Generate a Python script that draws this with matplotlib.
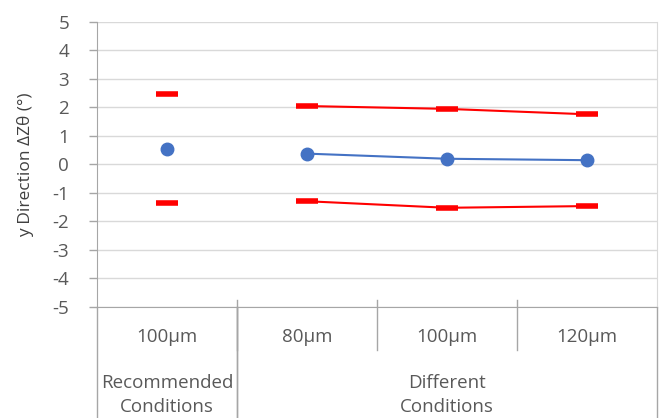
import matplotlib
matplotlib.use('Agg')
import matplotlib.pyplot as plt

plt.rcParams['font.family'] = ['Open Sans', 'DejaVu Sans']
plt.rcParams['axes.unicode_minus'] = False

# category labels (two levels)
sizes = ['100µm', '80µm', '100µm', '120µm']
groups = ['Recommended\nConditions', 'Different\nConditions']
group_span = [(0, 1), (1, 4)]

# values
mean = [0.55, 0.38, 0.20, 0.15]
upper = [2.48, 2.05, 1.95, 1.76]
lower = [-1.36, -1.29, -1.52, -1.46]

x = [i + 0.5 for i in range(len(sizes))]
txt = '#595959'
axcol = '#a6a6a6'
gridcol = '#d9d9d9'

fig = plt.figure(figsize=(6.64, 4.18), dpi=100)
ax = fig.add_axes([0.146, 0.2656, 0.8435, 0.6819])

# first point stands alone, the rest are joined
ax.plot(x[:1], upper[:1], ls='none', marker='_', ms=16, mew=4, color='#ff0000', zorder=3)
ax.plot(x[:1], lower[:1], ls='none', marker='_', ms=16, mew=4, color='#ff0000', zorder=3)
ax.plot(x[:1], mean[:1], ls='none', marker='o', ms=9, color='#4472c4', zorder=3)
ax.plot(x[1:], upper[1:], '-', marker='_', ms=16, mew=4, lw=1.5, color='#ff0000', zorder=3)
ax.plot(x[1:], lower[1:], '-', marker='_', ms=16, mew=4, lw=1.5, color='#ff0000', zorder=3)
ax.plot(x[1:], mean[1:], '-', marker='o', ms=9, lw=1.5, color='#4472c4', zorder=3)

ax.set_xlim(0, 4)
ax.set_ylim(-5, 5)
ax.set_yticks(range(-5, 6))
ax.grid(axis='y', color=gridcol, lw=1)
ax.set_axisbelow(True)
ax.tick_params(axis='y', colors=axcol, labelcolor=txt, labelsize=13.5, length=6, width=1, pad=14)
ax.set_xticks([])
ax.spines['top'].set_visible(False)
for s in ['left', 'right', 'bottom']:
    ax.spines[s].set_color(axcol)
ax.spines['right'].set_color(gridcol)
ax.set_ylabel('y Direction ΔZθ (°)', color='#404040', fontsize=12.5, labelpad=13)

# multi-level category axis
tr = ax.get_xaxis_transform()
for i in range(1, len(sizes)):
    ax.plot([i, i], [0.025, -0.151], color=axcol, lw=1, transform=tr, clip_on=False)
for a, b in group_span:
    for xx in (a, b):
        ax.plot([xx, xx], [0, -0.4], color=axcol, lw=1, transform=tr, clip_on=False)
for xi, s in zip(x, sizes):
    ax.text(xi, -0.105, s, transform=tr, ha='center', va='center', color=txt, fontsize=13.5)
for (a, b), g in zip(group_span, groups):
    ax.text((a + b) / 2, -0.31, g, transform=tr, ha='center', va='center',
            color=txt, fontsize=13.5, linespacing=1.45)

fig.savefig('out.png', dpi=100)
